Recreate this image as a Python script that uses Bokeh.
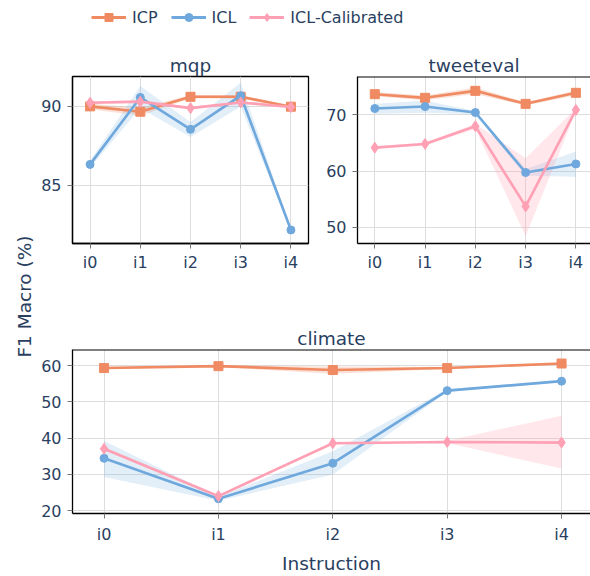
import numpy as np
from math import pi
from bokeh.plotting import figure
from bokeh.models import Range1d, FixedTicker, Legend, LegendItem, Label, Span
from bokeh.layouts import row, column
from bokeh.embed import file_html
from bokeh.resources import INLINE

# ---------------- data ----------------
instructions = ["i0", "i1", "i2", "i3", "i4"]
methods = ["ICP", "ICL", "ICL-Calibrated"]

# mqp
mqp_icp = [90.00, 89.66, 90.61, 90.61, 89.98]
mqp_icp_lo = [89.82, 89.40, 90.50, 90.50, 89.93]
mqp_icp_hi = [90.18, 89.90, 90.72, 90.72, 90.03]
mqp_icl = [86.31, 90.57, 88.54, 90.68, 82.14]
mqp_icl_lo = [86.10, 89.90, 88.05, 90.00, 82.05]
mqp_icl_hi = [86.55, 91.30, 89.00, 91.50, 82.25]
mqp_cal = [90.23, 90.30, 89.89, 90.25, 89.96]
mqp_cal_lo = [90.15, 90.22, 89.81, 90.17, 89.90]
mqp_cal_hi = [90.31, 90.38, 89.97, 90.33, 90.02]

# tweeteval
tw_icp = [73.68, 73.03, 74.27, 71.96, 73.92]
tw_icp_lo = [73.30, 72.60, 73.70, 71.65, 73.50]
tw_icp_hi = [74.05, 73.45, 74.85, 72.25, 74.35]
tw_icl = [71.13, 71.48, 70.42, 59.76, 61.28]
tw_icl_lo = [70.20, 70.40, 70.10, 59.20, 59.00]
tw_icl_hi = [72.00, 72.50, 70.70, 60.40, 63.50]
tw_cal = [64.18, 64.84, 67.98, 53.74, 70.89]
tw_cal_lo = [64.00, 64.60, 67.50, 48.50, 70.60]
tw_cal_hi = [64.40, 65.10, 68.40, 62.30, 71.20]

# climate
cl_icp = [59.37, 59.90, 58.83, 59.37, 60.63]
cl_icp_lo = [59.10, 59.65, 57.80, 59.10, 60.35]
cl_icp_hi = [59.65, 60.15, 59.80, 59.65, 60.90]
cl_icl = [34.46, 23.27, 33.10, 53.14, 55.76]
cl_icl_lo = [29.30, 22.70, 30.00, 52.80, 55.45]
cl_icl_hi = [39.20, 23.80, 36.40, 53.50, 56.05]
cl_cal = [37.08, 24.00, 38.60, 38.97, 38.79]
cl_cal_lo = [36.60, 23.60, 38.30, 38.65, 31.60]
cl_cal_hi = [37.60, 24.40, 38.90, 39.30, 46.20]

mqp_yticks = [85, 90]
tw_yticks = [50, 60, 70]
cl_yticks = [20, 30, 40, 50, 60]

# ---------------- style ----------------
TXT = "#2a3f5f"
FONT = "DejaVu Sans"
colors = {"ICP": "#EF8A62", "ICL": "#6FA8DC", "ICL-Calibrated": "#FFA0B4"}
band_alpha = {"ICP": 0.25, "ICL": 0.2, "ICL-Calibrated": 0.25}
markers = {"ICP": "square", "ICL": "circle", "ICL-Calibrated": "diamond"}
msize = {"ICP": 9, "ICL": 8, "ICL-Calibrated": 11}
GRID = "#dddddd"

x_idx = list(range(len(instructions)))


def panel(title, series, xr, yr, yticks, width, height, b_left, b_right, b_top, b_bottom,
          full_frame=False, xlabel=None):
    p = figure(width=width, height=height, x_range=Range1d(*xr), y_range=Range1d(*yr),
               output_backend="svg", toolbar_location=None, title=title,
               min_border_left=b_left, min_border_right=b_right,
               min_border_top=b_top, min_border_bottom=b_bottom)
    p.background_fill_color = "white"
    p.border_fill_color = "white"
    p.title.align = "center"
    p.title.text_font = FONT
    p.title.text_font_size = "18.5px"
    p.title.text_font_style = "normal"
    p.title.text_color = TXT
    p.title.standoff = 2
    if full_frame:
        p.outline_line_color = "black"
        p.outline_line_width = 1.3
    else:
        p.outline_line_color = None
        p.add_layout(Span(location=yr[1], dimension="width", line_color="black", line_width=2.2))
    p.xaxis.ticker = FixedTicker(ticks=x_idx)
    p.xaxis.major_label_overrides = {i: lab for i, lab in enumerate(instructions)}
    p.yaxis.ticker = FixedTicker(ticks=yticks)
    for ax in (p.xaxis[0], p.yaxis[0]):
        ax.major_label_text_font = FONT
        ax.major_label_text_font_size = "16px"
        ax.major_label_text_color = TXT
        ax.major_tick_out = 5
        ax.major_tick_in = 0
        ax.major_tick_line_color = "#777777"
        ax.minor_tick_line_color = None
        ax.axis_line_color = "black"
        ax.axis_line_width = 1.3
    p.xaxis.major_label_standoff = 4
    p.yaxis.major_label_standoff = 6
    p.xgrid.grid_line_color = GRID
    p.ygrid.grid_line_color = GRID
    if xlabel:
        p.xaxis.major_label_standoff = 6
        p.xaxis.axis_label = xlabel
        p.xaxis.axis_label_text_font = FONT
        p.xaxis.axis_label_text_font_size = "18.5px"
        p.xaxis.axis_label_text_font_style = "normal"
        p.xaxis.axis_label_text_color = TXT
        p.xaxis.axis_label_standoff = 6
    for m in methods:
        mean, lo, hi = series[m]
        c = colors[m]
        p.varea(x=x_idx, y1=lo, y2=hi, fill_color=c, fill_alpha=band_alpha[m])
    for m in methods:
        mean, lo, hi = series[m]
        c = colors[m]
        p.line(x_idx, mean, line_color=c, line_width=2.6)
        p.scatter(x_idx, mean, marker=markers[m], size=msize[m], fill_color=c, line_color=c)
    return p


mqp_series = {"ICP": (mqp_icp, mqp_icp_lo, mqp_icp_hi),
              "ICL": (mqp_icl, mqp_icl_lo, mqp_icl_hi),
              "ICL-Calibrated": (mqp_cal, mqp_cal_lo, mqp_cal_hi)}
tw_series = {"ICP": (tw_icp, tw_icp_lo, tw_icp_hi),
             "ICL": (tw_icl, tw_icl_lo, tw_icl_hi),
             "ICL-Calibrated": (tw_cal, tw_cal_lo, tw_cal_hi)}
cl_series = {"ICP": (cl_icp, cl_icp_lo, cl_icp_hi),
             "ICL": (cl_icl, cl_icl_lo, cl_icl_hi),
             "ICL-Calibrated": (cl_cal, cl_cal_lo, cl_cal_hi)}

YL_W = 36
p1 = panel("mqp", mqp_series, (-0.35, 4.35), (81.28, 91.9), mqp_yticks,
           284, 254, 36, 12, 40, 47, full_frame=True)
p2 = panel("tweeteval", tw_series, (-0.344, 4.29), (47.15, 76.82), tw_yticks,
           270, 254, 37, 0, 40, 47)
p3 = panel("climate", cl_series, (-0.276, 4.253), (19.2, 64.5), cl_yticks,
           554, 286, 36, 0, 59, 60, xlabel="Instruction")

# ---------------- legend row ----------------
lg = figure(width=554, height=36, x_range=Range1d(0, 1), y_range=Range1d(0, 1),
            output_backend="svg", toolbar_location=None, x_axis_type=None, y_axis_type=None,
            min_border=0)
lg.outline_line_color = None
items = []
for m, src in zip(methods, (mqp_icp, mqp_icl, mqp_cal)):
    c = colors[m]
    # real data, lying far outside this strip's 0..1 range: only the legend glyph shows
    r1 = lg.line(x_idx, src, line_color=c, line_width=3)
    r2 = lg.scatter(x_idx, src, marker=markers[m], size=msize[m] - 1, fill_color=c, line_color=c)
    items.append(LegendItem(label=m, renderers=[r1, r2]))
legend = Legend(items=items, orientation="horizontal", location=(19, 9),
                glyph_width=35, glyph_height=20, label_standoff=6, spacing=13,
                padding=0, margin=0, border_line_color=None, background_fill_alpha=0,
                label_text_font=FONT, label_text_font_size="16px", label_text_color=TXT)
lg.add_layout(legend, "center")

# ---------------- y label column ----------------
yl = figure(width=YL_W, height=576, x_range=Range1d(0, YL_W), y_range=Range1d(0, 576),
            output_backend="svg", toolbar_location=None, x_axis_type=None, y_axis_type=None,
            min_border=0)
yl.outline_line_color = None
yl.add_layout(Label(x=24, y=280, text="F1 Macro (%)", angle=pi / 2, text_align="center",
                    text_baseline="middle", text_font=FONT, text_font_size="18.5px",
                    text_color=TXT))

layout = row(yl, column(lg, row(p1, p2), p3))

open("out.html", "w").write(file_html(layout, INLINE))
